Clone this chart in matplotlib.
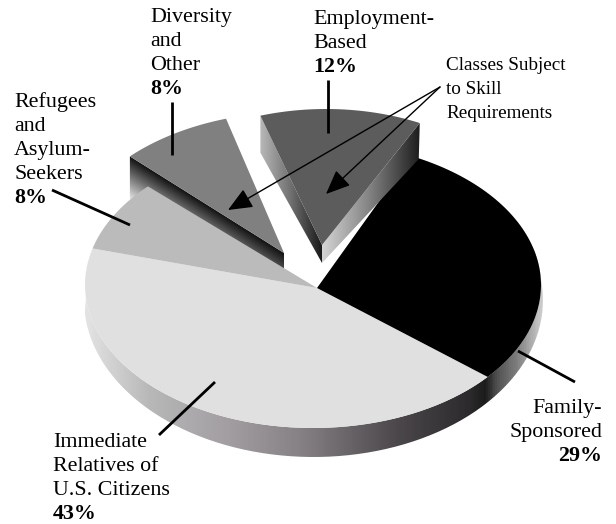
#!/usr/bin/env python
# -*- coding: utf-8 -*-

import numpy as np
import matplotlib
matplotlib.use("Agg")
import matplotlib.pyplot as plt
from matplotlib.colors import LinearSegmentedColormap
from matplotlib.patches import Polygon
from matplotlib.path import Path

# going counter-clockwise from the lower right
categories = ["Family-Sponsored", "Employment-Based", "Diversity and Other",
              "Refugees and Asylum-Seekers", "Immediate Relatives of U.S. Citizens"]
shares = [29, 12, 8, 8, 43]
top_colors = ["#000000", "#5c5c5c", "#808080", "#bbbbbb", "#e0e0e0"]

label_lines = [["Family-", "Sponsored"], ["Employment-", "Based"],
               ["Diversity", "and", "Other"], ["Refugees", "and", "Asylum-", "Seekers"],
               ["Immediate", "Relatives of", "U.S. Citizens"]]
note_lines = ["Classes Subject", "to Skill", "Requirements"]

START_ANGLE = -40.0
FONT = "Liberation Serif"


def ellipse(cx, cy, rx, ry, a1, a2, n=80):
    t = np.radians(np.linspace(a1, a2, n))
    return np.column_stack([cx + rx * np.cos(t), cy - ry * np.sin(t)])


def clip_gradient(ax, pts, img, extent, cmap=None, vmin=0, vmax=1):
    im = ax.imshow(img, extent=extent, cmap=cmap, vmin=vmin, vmax=vmax,
                   aspect="auto", interpolation="bilinear", zorder=ax.zcount)
    im.set_clip_path(Path(pts), ax.transData)
    ax.zcount += 1


def draw_top(ax, pts, color):
    ax.add_patch(Polygon(pts, closed=True, fc=color, ec="none", zorder=ax.zcount))
    ax.zcount += 1


def hgrad(stops):
    return LinearSegmentedColormap.from_list("g", stops)


def put_label(ax, x, y, lines, share, ha="left", size=15.8):
    # y is the first baseline, lines are 24 px apart
    for i, s in enumerate(lines):
        ax.text(x, y + 24 * i, s, ha=ha, va="baseline", family=FONT, fontsize=size)
    ax.text(x, y + 24 * len(lines), f"{share}%", ha=ha, va="baseline",
            family=FONT, fontsize=size, fontweight="bold")


def main():
    fig = plt.figure(figsize=(6.16, 5.24), dpi=100)
    ax = fig.add_axes([0, 0, 1, 1])
    ax.zcount = 1

    edges = START_ANGLE + np.concatenate([[0], np.cumsum(shares)]) * 3.6
    spans = list(zip(edges[:-1], edges[1:]))

    centre = (317, 288)
    top = (313, 285, 228, 143)
    bottom = (313.5, 300, 229.5, 157)

    # outer wall of the main pie
    a = (185, 375)
    wall = np.vstack([ellipse(*top, *a), ellipse(*bottom, *a)[::-1]])
    wall_stops = [(0.0, "#e4e4e4"), (0.14, "#b8b8b8"), (0.31, "#a29ea2"),
                  (0.47, "#858185"), (0.68, "#4c484c"), (0.84, "#2c2a2c"),
                  (0.875, "#1c1c1c"), (0.90, "#505050"), (0.945, "#808080"),
                  (1.0, "#d0d0d0")]
    clip_gradient(ax, wall, np.linspace(0, 1, 460)[None, :], (84, 544, 470, 140),
                  cmap=hgrad(wall_stops))

    # diversity wedge wall, sits behind the refugees wedge
    d_tip = np.array([284, 253])
    d_arc = ellipse(295, 255, top[2], top[3], spans[2][0], spans[2][1])
    d_left = d_arc[-1]
    d_wall = np.array([d_left, d_tip, d_tip + [0, 16], d_left + [0, 43]])
    gy, gx = np.mgrid[150:275:250j, 128:288:320j]
    u = (gx - d_left[0]) / (d_tip[0] - d_left[0])
    edge_y = d_left[1] + u * (d_tip[1] - d_left[1])
    thick = 43 + u * (16 - 43)
    tt = np.clip((gy - edge_y) / thick, 0, 1)
    shade = 0.07 + tt * (0.22 + 0.62 * (1 - u))
    clip_gradient(ax, d_wall, shade, (128, 288, 275, 150), cmap="gray")

    # main pie, the two exploded slices are missing here
    for i in [4, 3, 0]:
        draw_top(ax, np.vstack([centre, ellipse(*top, *spans[i])]), top_colors[i])

    draw_top(ax, np.vstack([d_tip, d_arc]), top_colors[2])

    # employment wedge
    e_tip = np.array([322, 245])
    e_arc = ellipse(326, 252, 217, top[3], spans[1][0], spans[1][1])
    e_right, e_left = e_arc[0], e_arc[-1]
    e_wall_r = np.array([e_tip, e_right, e_right + [-1, 36], e_tip + [0, 18]])
    e_wall_l = np.array([e_left, e_tip, e_tip + [0, 18], e_left + [0, 37]])
    clip_gradient(ax, e_wall_r, np.linspace(0, 1, 100)[None, :], (322, e_right[0], 270, 120),
                  cmap=hgrad(["#d4d4d4", "#808080", "#1e1e1e"]))
    clip_gradient(ax, e_wall_l, np.linspace(0, 1, 100)[None, :], (e_left[0], 322, 270, 110),
                  cmap=hgrad(["#b8b8b8", "#707070", "#1a1a1a"]))
    draw_top(ax, np.vstack([e_tip, e_arc]), top_colors[1])

    # labels
    put_label(ax, 602, 413, label_lines[0], shares[0], ha="right")
    put_label(ax, 313, 24, label_lines[1], shares[1])
    put_label(ax, 150, 22, label_lines[2], shares[2])
    put_label(ax, 14, 107, label_lines[3], shares[3])
    put_label(ax, 53, 447, label_lines[4], shares[4])
    for i, s in enumerate(note_lines):
        ax.text(446, 70 + 24 * i, s, ha="left", va="baseline", family=FONT, fontsize=13.8)

    # leader lines
    leaders = [((172, 102), (172, 155)), ((328, 80), (328, 133)),
               ((52, 190), (130, 225)), ((518, 351), (575, 382)),
               ((215, 382), (159, 435))]
    for p, q in leaders:
        ax.plot([p[0], q[0]], [p[1], q[1]], color="black", lw=2.0, zorder=50,
                solid_capstyle="butt")

    # arrows from the note
    for tip in [(228, 210), (326, 194)]:
        ax.annotate("", xy=tip, xytext=(440, 87), zorder=51,
                    arrowprops=dict(arrowstyle="-|>,head_length=0.75,head_width=0.32",
                                    color="black", lw=1.0, mutation_scale=20,
                                    shrinkA=0, shrinkB=0))

    ax.set_xlim(0, 616)
    ax.set_ylim(524, 0)
    ax.axis("off")
    fig.savefig("out.png", dpi=100, facecolor="white")


if __name__ == "__main__":
    main()
